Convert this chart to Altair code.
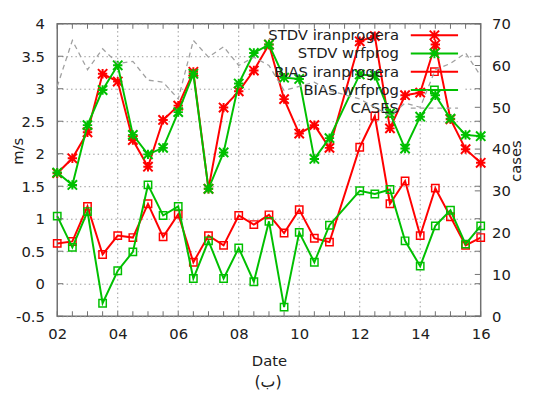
import altair as alt
import pandas as pd

# ---------------- data ----------------
dates = [2.0, 2.5, 3.0, 3.5, 4.0, 4.5, 5.0, 5.5, 6.0, 6.5, 7.0, 7.5, 8.0, 8.5,
         9.0, 9.5, 10.0, 10.5, 11.0, 11.5, 12.0, 12.5, 13.0, 13.5, 14.0, 14.5,
         15.0, 15.5, 16.0]

stdv_iran = [1.70, 1.93, 2.33, 3.23, 3.11, 2.21, 1.80, 2.52, 2.74, 3.26, 1.46, 2.71,
             2.96, 3.28, 3.68, 2.84, 2.31, 2.44, 2.09, None, 3.73, 3.81, 2.39, 2.90,
             2.94, 3.68, 2.53, 2.07, 1.86]
stdv_wrf = [1.71, 1.52, 2.44, 2.98, 3.36, 2.29, 1.99, 2.09, 2.64, 3.23, 1.46, 2.02,
            3.08, 3.55, 3.68, 3.17, 3.15, 1.92, 2.24, None, 3.22, 3.20, 2.62, 2.08,
            2.57, 2.90, 2.54, 2.29, 2.27]
bias_iran = [0.62, 0.65, 1.19, 0.45, 0.74, 0.71, 1.23, 0.72, 1.07, 0.33, 0.74, 0.59,
             1.05, 0.91, 1.06, 0.78, 1.14, 0.70, 0.64, None, 2.10, 2.58, 1.23, 1.58,
             0.74, 1.47, 1.03, 0.59, 0.71]
bias_wrf = [1.04, 0.56, 1.11, -0.30, 0.20, 0.49, 1.52, 1.05, 1.19, 0.08, 0.66, 0.08,
            0.55, 0.03, 0.96, -0.36, 0.79, 0.33, 0.90, None, 1.43, 1.38, 1.45, 0.66,
            0.27, 0.89, 1.13, 0.61, 0.89]
cases = [55, 66, 59, 64, 60.5, 61, 56.5, 56, 52, 66, 62, 64.5, 60, 62,
         60, 54, 55, 56, 54, None, 52, 50, 48, 51, 50, 59, 60.5, 63, 57.5]

x_major = [2, 4, 6, 8, 10, 12, 14, 16]
x_grid = [4, 6, 8, 10, 12, 14]
y_ticks = [-0.5, 0, 0.5, 1, 1.5, 2, 2.5, 3, 3.5, 4]
case_ticks = [0, 10, 20, 30, 40, 50, 60, 70]

legend_labels = ["STDV iranprogera", "STDV wrfprog", "BIAS iranprogera",
                 "BIAS wrfprog", "CASES"]
caption = "(ب)"

# ---------------- style ----------------
FONT = "DejaVu Sans"
TEXT = "#202020"
RED = "#ff0000"
GREEN = "#00c000"
GRAY = "#a0a0a0"
GRID = "#999999"
FRAME = "#707070"
STAR = "M-1,-1L1,1M-1,1L1,-1M-1,0L1,0M0,-1L0,1"
W, H = 430, 297
YMIN, YMAX = -0.5, 4

xscale = alt.Scale(domain=[2, 16], nice=False, zero=False)
yscale = alt.Scale(domain=[YMIN, YMAX], nice=False, zero=False)
cscale = alt.Scale(domain=[0, 70], nice=False, zero=False)

xaxis = alt.Axis(orient="bottom", values=x_major, format="02d", title="Date", grid=False,
                 labelPadding=11, labelFlush=False, titleY=50,
                 titleBaseline="alphabetic")
yaxis = alt.Axis(orient="left", values=y_ticks, labelExpr="datum.value + ''",
                 title="m/s", grid=True, labelPadding=13, titleAngle=270,
                 titleX=-40, titleY=129, titleAlign="center", titleBaseline="middle")
caxis = alt.Axis(orient="right", values=case_ticks, format="d", title="cases",
                 grid=False, labelPadding=11, titleAngle=270, titleX=35, titleY=139,
                 titleAlign="center", titleBaseline="middle")

one = pd.DataFrame({"a": [0]})
layers = []

# vertical dotted grid at the labelled dates (spans the whole m/s range)
gdf = pd.DataFrame({"g": x_grid, "lo": YMIN, "hi": YMAX})
layers.append(alt.Chart(gdf).mark_rule(
    color=GRID, strokeWidth=1, strokeDash=[1.5, 3]).encode(
    x=alt.X("g:Q", scale=xscale, axis=None),
    y=alt.Y("lo:Q", scale=yscale, axis=None),
    y2="hi:Q"))

# white key box (covers the grid, under the data)
layers.append(alt.Chart(one).mark_rect(fill="white").encode(
    x=alt.value(197), x2=alt.value(414), y=alt.value(1), y2=alt.value(95)))


def ms_layer(vals, color, shape, size, sw, first=False):
    df = pd.DataFrame({"date": dates, "v": vals}).dropna()
    line = alt.Chart(df).mark_line(color=color, strokeWidth=2).encode(
        x=alt.X("date:Q", scale=xscale, axis=xaxis if first else None),
        y=alt.Y("v:Q", scale=yscale, axis=yaxis if first else None),
    )
    pts = alt.Chart(df).mark_point(shape=shape, size=size, color=color, filled=False,
                                   strokeWidth=sw, opacity=1).encode(
        x=alt.X("date:Q", scale=xscale, axis=None),
        y=alt.Y("v:Q", scale=yscale, axis=None),
    )
    return [line, pts]


layers += ms_layer(stdv_iran, RED, STAR, 90, 2, first=True)
layers += ms_layer(stdv_wrf, GREEN, STAR, 90, 2)
layers += ms_layer(bias_iran, RED, "square", 56, 1.5)
layers += ms_layer(bias_wrf, GREEN, "square", 56, 1.5)

# inward tick marks on the frame
tick_x = pd.DataFrame({"date": dates, "lo": YMIN, "hi": YMAX})
tick_y = pd.DataFrame({"t": y_ticks})
layers.append(alt.Chart(tick_x).mark_tick(orient="vertical", size=5, thickness=1,
                                          color=FRAME, opacity=1, yOffset=-2.5).encode(
    x=alt.X("date:Q", scale=xscale, axis=None),
    y=alt.Y("lo:Q", scale=yscale, axis=None)))
layers.append(alt.Chart(tick_x).mark_tick(orient="vertical", size=5, thickness=1,
                                          color=FRAME, opacity=1, yOffset=2.5).encode(
    x=alt.X("date:Q", scale=xscale, axis=None),
    y=alt.Y("hi:Q", scale=yscale, axis=None)))
layers.append(alt.Chart(tick_y).mark_tick(orient="horizontal", size=6, thickness=1,
                                          color=FRAME, opacity=1).encode(
    y=alt.Y("t:Q", scale=yscale, axis=None), x=alt.value(3)))
layers.append(alt.Chart(tick_y).mark_tick(orient="horizontal", size=6, thickness=1,
                                          color=FRAME, opacity=1).encode(
    y=alt.Y("t:Q", scale=yscale, axis=None), x=alt.value(W - 3)))

# key (gnuplot style: text then sample)
leg = pd.DataFrame({
    "label": legend_labels,
    "ly": [11.7 + 18.5 * i for i in range(len(legend_labels))],
    "col": [RED, GREEN, RED, GREEN, GRAY],
})
layers.append(alt.Chart(leg).mark_text(align="right", baseline="middle", font=FONT,
                                       fontSize=15, color=TEXT).encode(
    x=alt.value(347), y=alt.Y("ly:Q", scale=None, axis=None), text="label:N"))
layers.append(alt.Chart(leg.iloc[:4]).mark_rule(strokeWidth=2).encode(
    x=alt.value(359), x2=alt.value(407), y=alt.Y("ly:Q", scale=None, axis=None),
    color=alt.Color("col:N", scale=None)))
layers.append(alt.Chart(leg.iloc[4:]).mark_rule(strokeWidth=1.3, strokeDash=[5, 4],
                                                color=GRAY).encode(
    x=alt.value(359), x2=alt.value(407), y=alt.Y("ly:Q", scale=None, axis=None)))
layers.append(alt.Chart(leg.iloc[:2]).mark_point(shape=STAR, size=90, filled=False,
                                                 strokeWidth=2, opacity=1).encode(
    x=alt.value(383), y=alt.Y("ly:Q", scale=None, axis=None),
    color=alt.Color("col:N", scale=None)))
layers.append(alt.Chart(leg.iloc[2:4]).mark_point(shape="square", size=56, filled=False,
                                                  strokeWidth=1.5, opacity=1).encode(
    x=alt.value(383), y=alt.Y("ly:Q", scale=None, axis=None),
    color=alt.Color("col:N", scale=None)))
layers.append(alt.Chart(one).mark_text(text=caption, font=FONT, fontSize=16, color=TEXT,
                                       baseline="alphabetic", align="center").encode(
    x=alt.value(214), y=alt.value(369)))

# cases on the right axis
cdf = pd.DataFrame({"date": dates, "c": cases}).dropna()
layers.append(alt.Chart(cdf).mark_line(color=GRAY, strokeWidth=1.3, strokeDash=[5, 4]).encode(
    x=alt.X("date:Q", scale=xscale, axis=None),
    y=alt.Y("c:Q", scale=cscale, axis=caxis)))
layers.append(alt.Chart(pd.DataFrame({"t": case_ticks})).mark_tick(
    orient="horizontal", size=6, thickness=1, color=FRAME, opacity=1).encode(
    y=alt.Y("t:Q", scale=cscale, axis=None), x=alt.value(W - 3)))

chart = alt.layer(*layers).resolve_scale(x="independent", y="independent").properties(
    width=W, height=H,
    autosize=alt.AutoSizeParams(type="none"),
    padding={"left": 50, "top": 13, "right": 46, "bottom": 75},
).configure_view(stroke=FRAME, strokeWidth=1.5).configure_axis(
    labelFont=FONT, titleFont=FONT, labelFontSize=15, titleFontSize=15,
    titleFontWeight="normal", labelColor=TEXT, titleColor=TEXT,
    domain=False, ticks=False,
    gridColor=GRID, gridDash=[1.5, 3], gridWidth=1,
)

chart.save("out.html", embed_options={"renderer": "svg", "actions": False})
